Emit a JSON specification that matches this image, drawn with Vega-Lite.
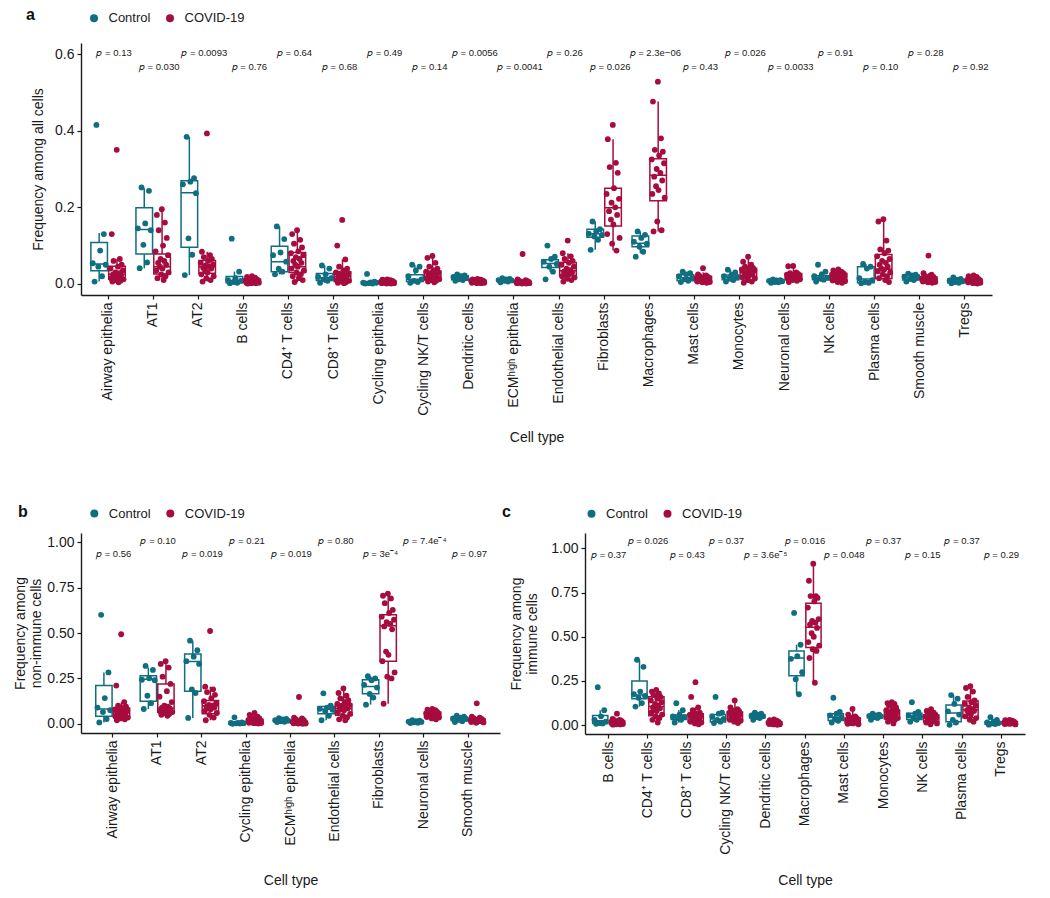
{
"$schema":"https://vega.github.io/schema/vega-lite/v6.json",
"padding":{"left":12,"top":7,"right":5,"bottom":5},
"bounds":"flush",
"spacing":238,
"config":{"font":"Liberation Sans","view":{"stroke":null},
"axis":{"grid":false,"domainColor":"#1a1a1a","domainWidth":1.4,"tickColor":"#1a1a1a","tickWidth":1.2,"tickSize":4,"labelColor":"#1a1a1a","labelFontSize":14,"labelPadding":3,"titleColor":"#1a1a1a","titleFontSize":14,"titleFontWeight":"normal"},
"legend":{"orient":"none","direction":"horizontal","title":null,"symbolType":"circle","symbolSize":64,"symbolStrokeWidth":0,"labelFontSize":13,"labelColor":"#1a1a1a","columnPadding":13,"labelOffset":8,"padding":0},
"title":{"color":"#111111"},"text":{"color":"#1a1a1a","font":"Liberation Sans"}},
"datasets":{
"ptA":[
{"c":"AE","g":"C","v":0.415},{"c":"AE","g":"C","v":0.13},{"c":"AE","g":"C","v":0.087},{"c":"AE","g":"C","v":0.054},{"c":"AE","g":"C","v":0.05},{"c":"AE","g":"C","v":0.045},{"c":"AE","g":"C","v":0.02},{"c":"AE","g":"C","v":0.006},
{"c":"AE","g":"V","v":0.35},{"c":"AE","g":"V","v":0.13},{"c":"AE","g":"V","v":0.065},{"c":"AE","g":"V","v":0.06},{"c":"AE","g":"V","v":0.05},{"c":"AE","g":"V","v":0.045},{"c":"AE","g":"V","v":0.04},{"c":"AE","g":"V","v":0.035},{"c":"AE","g":"V","v":0.03},{"c":"AE","g":"V","v":0.028},{"c":"AE","g":"V","v":0.025},{"c":"AE","g":"V","v":0.022},{"c":"AE","g":"V","v":0.02},{"c":"AE","g":"V","v":0.018},{"c":"AE","g":"V","v":0.015},{"c":"AE","g":"V","v":0.012},{"c":"AE","g":"V","v":0.01},{"c":"AE","g":"V","v":0.008},{"c":"AE","g":"V","v":0.006},{"c":"AE","g":"V","v":0.004},
{"c":"AT1","g":"C","v":0.252},{"c":"AT1","g":"C","v":0.243},{"c":"AT1","g":"C","v":0.158},{"c":"AT1","g":"C","v":0.145},{"c":"AT1","g":"C","v":0.14},{"c":"AT1","g":"C","v":0.102},{"c":"AT1","g":"C","v":0.056},{"c":"AT1","g":"C","v":0.041},
{"c":"AT1","g":"V","v":0.195},{"c":"AT1","g":"V","v":0.18},{"c":"AT1","g":"V","v":0.16},{"c":"AT1","g":"V","v":0.14},{"c":"AT1","g":"V","v":0.12},{"c":"AT1","g":"V","v":0.1},{"c":"AT1","g":"V","v":0.085},{"c":"AT1","g":"V","v":0.075},{"c":"AT1","g":"V","v":0.065},{"c":"AT1","g":"V","v":0.06},{"c":"AT1","g":"V","v":0.055},{"c":"AT1","g":"V","v":0.05},{"c":"AT1","g":"V","v":0.045},{"c":"AT1","g":"V","v":0.04},{"c":"AT1","g":"V","v":0.035},{"c":"AT1","g":"V","v":0.03},{"c":"AT1","g":"V","v":0.025},{"c":"AT1","g":"V","v":0.02},{"c":"AT1","g":"V","v":0.015},{"c":"AT1","g":"V","v":0.01},
{"c":"AT2","g":"C","v":0.384},{"c":"AT2","g":"C","v":0.276},{"c":"AT2","g":"C","v":0.267},{"c":"AT2","g":"C","v":0.26},{"c":"AT2","g":"C","v":0.237},{"c":"AT2","g":"C","v":0.119},{"c":"AT2","g":"C","v":0.076},{"c":"AT2","g":"C","v":0.023},
{"c":"AT2","g":"V","v":0.393},{"c":"AT2","g":"V","v":0.084},{"c":"AT2","g":"V","v":0.075},{"c":"AT2","g":"V","v":0.07},{"c":"AT2","g":"V","v":0.065},{"c":"AT2","g":"V","v":0.06},{"c":"AT2","g":"V","v":0.055},{"c":"AT2","g":"V","v":0.05},{"c":"AT2","g":"V","v":0.048},{"c":"AT2","g":"V","v":0.045},{"c":"AT2","g":"V","v":0.042},{"c":"AT2","g":"V","v":0.04},{"c":"AT2","g":"V","v":0.035},{"c":"AT2","g":"V","v":0.03},{"c":"AT2","g":"V","v":0.025},{"c":"AT2","g":"V","v":0.02},{"c":"AT2","g":"V","v":0.015},{"c":"AT2","g":"V","v":0.01},{"c":"AT2","g":"V","v":0.006},
{"c":"B","g":"C","v":0.118},{"c":"B","g":"C","v":0.032},{"c":"B","g":"C","v":0.015},{"c":"B","g":"C","v":0.01},{"c":"B","g":"C","v":0.008},{"c":"B","g":"C","v":0.005},{"c":"B","g":"C","v":0.003},{"c":"B","g":"C","v":0.002},
{"c":"B","g":"V","v":0.02},{"c":"B","g":"V","v":0.018},{"c":"B","g":"V","v":0.016},{"c":"B","g":"V","v":0.014},{"c":"B","g":"V","v":0.012},{"c":"B","g":"V","v":0.011},{"c":"B","g":"V","v":0.01},{"c":"B","g":"V","v":0.009},{"c":"B","g":"V","v":0.008},{"c":"B","g":"V","v":0.007},{"c":"B","g":"V","v":0.006},{"c":"B","g":"V","v":0.005},{"c":"B","g":"V","v":0.005},{"c":"B","g":"V","v":0.004},{"c":"B","g":"V","v":0.003},{"c":"B","g":"V","v":0.003},{"c":"B","g":"V","v":0.002},{"c":"B","g":"V","v":0.002},{"c":"B","g":"V","v":0.001},
{"c":"CD4","g":"C","v":0.15},{"c":"CD4","g":"C","v":0.117},{"c":"CD4","g":"C","v":0.082},{"c":"CD4","g":"C","v":0.075},{"c":"CD4","g":"C","v":0.058},{"c":"CD4","g":"C","v":0.04},{"c":"CD4","g":"C","v":0.032},{"c":"CD4","g":"C","v":0.025},
{"c":"CD4","g":"V","v":0.14},{"c":"CD4","g":"V","v":0.13},{"c":"CD4","g":"V","v":0.115},{"c":"CD4","g":"V","v":0.105},{"c":"CD4","g":"V","v":0.095},{"c":"CD4","g":"V","v":0.085},{"c":"CD4","g":"V","v":0.08},{"c":"CD4","g":"V","v":0.075},{"c":"CD4","g":"V","v":0.07},{"c":"CD4","g":"V","v":0.065},{"c":"CD4","g":"V","v":0.06},{"c":"CD4","g":"V","v":0.055},{"c":"CD4","g":"V","v":0.05},{"c":"CD4","g":"V","v":0.045},{"c":"CD4","g":"V","v":0.04},{"c":"CD4","g":"V","v":0.035},{"c":"CD4","g":"V","v":0.03},{"c":"CD4","g":"V","v":0.025},{"c":"CD4","g":"V","v":0.02},{"c":"CD4","g":"V","v":0.015},{"c":"CD4","g":"V","v":0.01},{"c":"CD4","g":"V","v":0.005},
{"c":"CD8","g":"C","v":0.048},{"c":"CD8","g":"C","v":0.04},{"c":"CD8","g":"C","v":0.025},{"c":"CD8","g":"C","v":0.018},{"c":"CD8","g":"C","v":0.015},{"c":"CD8","g":"C","v":0.012},{"c":"CD8","g":"C","v":0.008},{"c":"CD8","g":"C","v":0.003},
{"c":"CD8","g":"V","v":0.167},{"c":"CD8","g":"V","v":0.1},{"c":"CD8","g":"V","v":0.064},{"c":"CD8","g":"V","v":0.045},{"c":"CD8","g":"V","v":0.04},{"c":"CD8","g":"V","v":0.035},{"c":"CD8","g":"V","v":0.03},{"c":"CD8","g":"V","v":0.028},{"c":"CD8","g":"V","v":0.025},{"c":"CD8","g":"V","v":0.022},{"c":"CD8","g":"V","v":0.02},{"c":"CD8","g":"V","v":0.018},{"c":"CD8","g":"V","v":0.015},{"c":"CD8","g":"V","v":0.012},{"c":"CD8","g":"V","v":0.01},{"c":"CD8","g":"V","v":0.008},{"c":"CD8","g":"V","v":0.006},{"c":"CD8","g":"V","v":0.004},{"c":"CD8","g":"V","v":0.003},{"c":"CD8","g":"V","v":0.002},
{"c":"CyE","g":"C","v":0.026},{"c":"CyE","g":"C","v":0.006},{"c":"CyE","g":"C","v":0.004},{"c":"CyE","g":"C","v":0.003},{"c":"CyE","g":"C","v":0.003},{"c":"CyE","g":"C","v":0.002},{"c":"CyE","g":"C","v":0.001},{"c":"CyE","g":"C","v":0.001},
{"c":"CyE","g":"V","v":0.012},{"c":"CyE","g":"V","v":0.011},{"c":"CyE","g":"V","v":0.01},{"c":"CyE","g":"V","v":0.009},{"c":"CyE","g":"V","v":0.008},{"c":"CyE","g":"V","v":0.007},{"c":"CyE","g":"V","v":0.006},{"c":"CyE","g":"V","v":0.006},{"c":"CyE","g":"V","v":0.005},{"c":"CyE","g":"V","v":0.005},{"c":"CyE","g":"V","v":0.004},{"c":"CyE","g":"V","v":0.004},{"c":"CyE","g":"V","v":0.003},{"c":"CyE","g":"V","v":0.003},{"c":"CyE","g":"V","v":0.002},{"c":"CyE","g":"V","v":0.002},{"c":"CyE","g":"V","v":0.001},{"c":"CyE","g":"V","v":0.001},
{"c":"CyNK","g":"C","v":0.05},{"c":"CyNK","g":"C","v":0.045},{"c":"CyNK","g":"C","v":0.035},{"c":"CyNK","g":"C","v":0.02},{"c":"CyNK","g":"C","v":0.012},{"c":"CyNK","g":"C","v":0.008},{"c":"CyNK","g":"C","v":0.005},{"c":"CyNK","g":"C","v":0.003},
{"c":"CyNK","g":"V","v":0.073},{"c":"CyNK","g":"V","v":0.068},{"c":"CyNK","g":"V","v":0.055},{"c":"CyNK","g":"V","v":0.045},{"c":"CyNK","g":"V","v":0.04},{"c":"CyNK","g":"V","v":0.035},{"c":"CyNK","g":"V","v":0.032},{"c":"CyNK","g":"V","v":0.03},{"c":"CyNK","g":"V","v":0.028},{"c":"CyNK","g":"V","v":0.025},{"c":"CyNK","g":"V","v":0.022},{"c":"CyNK","g":"V","v":0.02},{"c":"CyNK","g":"V","v":0.018},{"c":"CyNK","g":"V","v":0.016},{"c":"CyNK","g":"V","v":0.014},{"c":"CyNK","g":"V","v":0.012},{"c":"CyNK","g":"V","v":0.01},{"c":"CyNK","g":"V","v":0.008},{"c":"CyNK","g":"V","v":0.006},{"c":"CyNK","g":"V","v":0.004},
{"c":"DC","g":"C","v":0.025},{"c":"DC","g":"C","v":0.022},{"c":"DC","g":"C","v":0.02},{"c":"DC","g":"C","v":0.018},{"c":"DC","g":"C","v":0.015},{"c":"DC","g":"C","v":0.012},{"c":"DC","g":"C","v":0.01},{"c":"DC","g":"C","v":0.008},
{"c":"DC","g":"V","v":0.013},{"c":"DC","g":"V","v":0.012},{"c":"DC","g":"V","v":0.011},{"c":"DC","g":"V","v":0.01},{"c":"DC","g":"V","v":0.009},{"c":"DC","g":"V","v":0.008},{"c":"DC","g":"V","v":0.008},{"c":"DC","g":"V","v":0.007},{"c":"DC","g":"V","v":0.006},{"c":"DC","g":"V","v":0.006},{"c":"DC","g":"V","v":0.005},{"c":"DC","g":"V","v":0.005},{"c":"DC","g":"V","v":0.004},{"c":"DC","g":"V","v":0.004},{"c":"DC","g":"V","v":0.003},{"c":"DC","g":"V","v":0.003},{"c":"DC","g":"V","v":0.002},{"c":"DC","g":"V","v":0.002},
{"c":"ECM","g":"C","v":0.015},{"c":"ECM","g":"C","v":0.013},{"c":"ECM","g":"C","v":0.012},{"c":"ECM","g":"C","v":0.01},{"c":"ECM","g":"C","v":0.009},{"c":"ECM","g":"C","v":0.008},{"c":"ECM","g":"C","v":0.006},{"c":"ECM","g":"C","v":0.004},
{"c":"ECM","g":"V","v":0.078},{"c":"ECM","g":"V","v":0.012},{"c":"ECM","g":"V","v":0.01},{"c":"ECM","g":"V","v":0.008},{"c":"ECM","g":"V","v":0.007},{"c":"ECM","g":"V","v":0.006},{"c":"ECM","g":"V","v":0.005},{"c":"ECM","g":"V","v":0.005},{"c":"ECM","g":"V","v":0.004},{"c":"ECM","g":"V","v":0.004},{"c":"ECM","g":"V","v":0.003},{"c":"ECM","g":"V","v":0.003},{"c":"ECM","g":"V","v":0.003},{"c":"ECM","g":"V","v":0.002},{"c":"ECM","g":"V","v":0.002},{"c":"ECM","g":"V","v":0.002},{"c":"ECM","g":"V","v":0.001},{"c":"ECM","g":"V","v":0.001},
{"c":"EC","g":"C","v":0.1},{"c":"EC","g":"C","v":0.071},{"c":"EC","g":"C","v":0.065},{"c":"EC","g":"C","v":0.058},{"c":"EC","g":"C","v":0.052},{"c":"EC","g":"C","v":0.045},{"c":"EC","g":"C","v":0.032},{"c":"EC","g":"C","v":0.012},
{"c":"EC","g":"V","v":0.113},{"c":"EC","g":"V","v":0.08},{"c":"EC","g":"V","v":0.072},{"c":"EC","g":"V","v":0.065},{"c":"EC","g":"V","v":0.06},{"c":"EC","g":"V","v":0.055},{"c":"EC","g":"V","v":0.05},{"c":"EC","g":"V","v":0.045},{"c":"EC","g":"V","v":0.04},{"c":"EC","g":"V","v":0.036},{"c":"EC","g":"V","v":0.032},{"c":"EC","g":"V","v":0.03},{"c":"EC","g":"V","v":0.027},{"c":"EC","g":"V","v":0.024},{"c":"EC","g":"V","v":0.02},{"c":"EC","g":"V","v":0.017},{"c":"EC","g":"V","v":0.014},{"c":"EC","g":"V","v":0.01},{"c":"EC","g":"V","v":0.006},
{"c":"Fib","g":"C","v":0.163},{"c":"Fib","g":"C","v":0.143},{"c":"Fib","g":"C","v":0.137},{"c":"Fib","g":"C","v":0.131},{"c":"Fib","g":"C","v":0.128},{"c":"Fib","g":"C","v":0.124},{"c":"Fib","g":"C","v":0.115},{"c":"Fib","g":"C","v":0.089},
{"c":"Fib","g":"V","v":0.415},{"c":"Fib","g":"V","v":0.378},{"c":"Fib","g":"V","v":0.316},{"c":"Fib","g":"V","v":0.305},{"c":"Fib","g":"V","v":0.29},{"c":"Fib","g":"V","v":0.25},{"c":"Fib","g":"V","v":0.235},{"c":"Fib","g":"V","v":0.222},{"c":"Fib","g":"V","v":0.212},{"c":"Fib","g":"V","v":0.2},{"c":"Fib","g":"V","v":0.19},{"c":"Fib","g":"V","v":0.18},{"c":"Fib","g":"V","v":0.168},{"c":"Fib","g":"V","v":0.155},{"c":"Fib","g":"V","v":0.13},{"c":"Fib","g":"V","v":0.12},{"c":"Fib","g":"V","v":0.105},{"c":"Fib","g":"V","v":0.087},
{"c":"Mac","g":"C","v":0.137},{"c":"Mac","g":"C","v":0.128},{"c":"Mac","g":"C","v":0.12},{"c":"Mac","g":"C","v":0.11},{"c":"Mac","g":"C","v":0.105},{"c":"Mac","g":"C","v":0.097},{"c":"Mac","g":"C","v":0.084},{"c":"Mac","g":"C","v":0.071},
{"c":"Mac","g":"V","v":0.528},{"c":"Mac","g":"V","v":0.476},{"c":"Mac","g":"V","v":0.38},{"c":"Mac","g":"V","v":0.35},{"c":"Mac","g":"V","v":0.345},{"c":"Mac","g":"V","v":0.335},{"c":"Mac","g":"V","v":0.325},{"c":"Mac","g":"V","v":0.315},{"c":"Mac","g":"V","v":0.3},{"c":"Mac","g":"V","v":0.29},{"c":"Mac","g":"V","v":0.28},{"c":"Mac","g":"V","v":0.27},{"c":"Mac","g":"V","v":0.255},{"c":"Mac","g":"V","v":0.245},{"c":"Mac","g":"V","v":0.235},{"c":"Mac","g":"V","v":0.225},{"c":"Mac","g":"V","v":0.163},{"c":"Mac","g":"V","v":0.14},{"c":"Mac","g":"V","v":0.137},
{"c":"Mast","g":"C","v":0.032},{"c":"Mast","g":"C","v":0.028},{"c":"Mast","g":"C","v":0.025},{"c":"Mast","g":"C","v":0.02},{"c":"Mast","g":"C","v":0.015},{"c":"Mast","g":"C","v":0.012},{"c":"Mast","g":"C","v":0.008},{"c":"Mast","g":"C","v":0.005},
{"c":"Mast","g":"V","v":0.041},{"c":"Mast","g":"V","v":0.025},{"c":"Mast","g":"V","v":0.022},{"c":"Mast","g":"V","v":0.02},{"c":"Mast","g":"V","v":0.018},{"c":"Mast","g":"V","v":0.016},{"c":"Mast","g":"V","v":0.015},{"c":"Mast","g":"V","v":0.014},{"c":"Mast","g":"V","v":0.012},{"c":"Mast","g":"V","v":0.011},{"c":"Mast","g":"V","v":0.01},{"c":"Mast","g":"V","v":0.009},{"c":"Mast","g":"V","v":0.008},{"c":"Mast","g":"V","v":0.007},{"c":"Mast","g":"V","v":0.006},{"c":"Mast","g":"V","v":0.005},{"c":"Mast","g":"V","v":0.004},{"c":"Mast","g":"V","v":0.003},
{"c":"Mono","g":"C","v":0.037},{"c":"Mono","g":"C","v":0.03},{"c":"Mono","g":"C","v":0.024},{"c":"Mono","g":"C","v":0.02},{"c":"Mono","g":"C","v":0.017},{"c":"Mono","g":"C","v":0.014},{"c":"Mono","g":"C","v":0.01},{"c":"Mono","g":"C","v":0.006},
{"c":"Mono","g":"V","v":0.071},{"c":"Mono","g":"V","v":0.058},{"c":"Mono","g":"V","v":0.05},{"c":"Mono","g":"V","v":0.045},{"c":"Mono","g":"V","v":0.042},{"c":"Mono","g":"V","v":0.04},{"c":"Mono","g":"V","v":0.038},{"c":"Mono","g":"V","v":0.035},{"c":"Mono","g":"V","v":0.032},{"c":"Mono","g":"V","v":0.03},{"c":"Mono","g":"V","v":0.028},{"c":"Mono","g":"V","v":0.025},{"c":"Mono","g":"V","v":0.022},{"c":"Mono","g":"V","v":0.02},{"c":"Mono","g":"V","v":0.017},{"c":"Mono","g":"V","v":0.014},{"c":"Mono","g":"V","v":0.01},{"c":"Mono","g":"V","v":0.006},{"c":"Mono","g":"V","v":0.003},
{"c":"Neu","g":"C","v":0.012},{"c":"Neu","g":"C","v":0.01},{"c":"Neu","g":"C","v":0.009},{"c":"Neu","g":"C","v":0.008},{"c":"Neu","g":"C","v":0.007},{"c":"Neu","g":"C","v":0.005},{"c":"Neu","g":"C","v":0.004},{"c":"Neu","g":"C","v":0.003},
{"c":"Neu","g":"V","v":0.047},{"c":"Neu","g":"V","v":0.046},{"c":"Neu","g":"V","v":0.03},{"c":"Neu","g":"V","v":0.028},{"c":"Neu","g":"V","v":0.026},{"c":"Neu","g":"V","v":0.025},{"c":"Neu","g":"V","v":0.024},{"c":"Neu","g":"V","v":0.022},{"c":"Neu","g":"V","v":0.021},{"c":"Neu","g":"V","v":0.02},{"c":"Neu","g":"V","v":0.019},{"c":"Neu","g":"V","v":0.018},{"c":"Neu","g":"V","v":0.017},{"c":"Neu","g":"V","v":0.015},{"c":"Neu","g":"V","v":0.014},{"c":"Neu","g":"V","v":0.012},{"c":"Neu","g":"V","v":0.01},{"c":"Neu","g":"V","v":0.008},{"c":"Neu","g":"V","v":0.005},
{"c":"NK","g":"C","v":0.05},{"c":"NK","g":"C","v":0.032},{"c":"NK","g":"C","v":0.025},{"c":"NK","g":"C","v":0.02},{"c":"NK","g":"C","v":0.016},{"c":"NK","g":"C","v":0.014},{"c":"NK","g":"C","v":0.011},{"c":"NK","g":"C","v":0.006},
{"c":"NK","g":"V","v":0.038},{"c":"NK","g":"V","v":0.035},{"c":"NK","g":"V","v":0.032},{"c":"NK","g":"V","v":0.03},{"c":"NK","g":"V","v":0.028},{"c":"NK","g":"V","v":0.026},{"c":"NK","g":"V","v":0.024},{"c":"NK","g":"V","v":0.022},{"c":"NK","g":"V","v":0.02},{"c":"NK","g":"V","v":0.018},{"c":"NK","g":"V","v":0.016},{"c":"NK","g":"V","v":0.015},{"c":"NK","g":"V","v":0.013},{"c":"NK","g":"V","v":0.011},{"c":"NK","g":"V","v":0.009},{"c":"NK","g":"V","v":0.007},{"c":"NK","g":"V","v":0.005},{"c":"NK","g":"V","v":0.003},
{"c":"PC","g":"C","v":0.052},{"c":"PC","g":"C","v":0.045},{"c":"PC","g":"C","v":0.04},{"c":"PC","g":"C","v":0.015},{"c":"PC","g":"C","v":0.01},{"c":"PC","g":"C","v":0.005},{"c":"PC","g":"C","v":0.003},{"c":"PC","g":"C","v":0.002},
{"c":"PC","g":"V","v":0.169},{"c":"PC","g":"V","v":0.163},{"c":"PC","g":"V","v":0.113},{"c":"PC","g":"V","v":0.09},{"c":"PC","g":"V","v":0.087},{"c":"PC","g":"V","v":0.08},{"c":"PC","g":"V","v":0.072},{"c":"PC","g":"V","v":0.065},{"c":"PC","g":"V","v":0.06},{"c":"PC","g":"V","v":0.055},{"c":"PC","g":"V","v":0.05},{"c":"PC","g":"V","v":0.045},{"c":"PC","g":"V","v":0.04},{"c":"PC","g":"V","v":0.037},{"c":"PC","g":"V","v":0.033},{"c":"PC","g":"V","v":0.03},{"c":"PC","g":"V","v":0.025},{"c":"PC","g":"V","v":0.02},{"c":"PC","g":"V","v":0.015},{"c":"PC","g":"V","v":0.01},{"c":"PC","g":"V","v":0.005},
{"c":"SM","g":"C","v":0.027},{"c":"SM","g":"C","v":0.024},{"c":"SM","g":"C","v":0.022},{"c":"SM","g":"C","v":0.019},{"c":"SM","g":"C","v":0.016},{"c":"SM","g":"C","v":0.013},{"c":"SM","g":"C","v":0.01},{"c":"SM","g":"C","v":0.006},
{"c":"SM","g":"V","v":0.074},{"c":"SM","g":"V","v":0.028},{"c":"SM","g":"V","v":0.024},{"c":"SM","g":"V","v":0.02},{"c":"SM","g":"V","v":0.018},{"c":"SM","g":"V","v":0.016},{"c":"SM","g":"V","v":0.015},{"c":"SM","g":"V","v":0.013},{"c":"SM","g":"V","v":0.012},{"c":"SM","g":"V","v":0.011},{"c":"SM","g":"V","v":0.01},{"c":"SM","g":"V","v":0.009},{"c":"SM","g":"V","v":0.008},{"c":"SM","g":"V","v":0.007},{"c":"SM","g":"V","v":0.006},{"c":"SM","g":"V","v":0.005},{"c":"SM","g":"V","v":0.004},{"c":"SM","g":"V","v":0.003},
{"c":"Treg","g":"C","v":0.017},{"c":"Treg","g":"C","v":0.013},{"c":"Treg","g":"C","v":0.011},{"c":"Treg","g":"C","v":0.009},{"c":"Treg","g":"C","v":0.007},{"c":"Treg","g":"C","v":0.005},{"c":"Treg","g":"C","v":0.003},{"c":"Treg","g":"C","v":0.002},
{"c":"Treg","g":"V","v":0.022},{"c":"Treg","g":"V","v":0.02},{"c":"Treg","g":"V","v":0.018},{"c":"Treg","g":"V","v":0.015},{"c":"Treg","g":"V","v":0.013},{"c":"Treg","g":"V","v":0.012},{"c":"Treg","g":"V","v":0.011},{"c":"Treg","g":"V","v":0.01},{"c":"Treg","g":"V","v":0.009},{"c":"Treg","g":"V","v":0.008},{"c":"Treg","g":"V","v":0.007},{"c":"Treg","g":"V","v":0.006},{"c":"Treg","g":"V","v":0.005},{"c":"Treg","g":"V","v":0.004},{"c":"Treg","g":"V","v":0.004},{"c":"Treg","g":"V","v":0.003},{"c":"Treg","g":"V","v":0.002},{"c":"Treg","g":"V","v":0.001}
],
"boxA":[
{"c":"AE","g":"C","lo":0.006,"q1":0.034,"md":0.052,"q3":0.108,"hi":0.133},{"c":"AE","g":"V","lo":0.003,"q1":0.012,"md":0.025,"q3":0.046,"hi":0.065},
{"c":"AT1","g":"C","lo":0.041,"q1":0.078,"md":0.142,"q3":0.199,"hi":0.25},{"c":"AT1","g":"V","lo":0.01,"q1":0.026,"md":0.045,"q3":0.078,"hi":0.195},
{"c":"AT2","g":"C","lo":0.023,"q1":0.096,"md":0.238,"q3":0.269,"hi":0.384},{"c":"AT2","g":"V","lo":0.006,"q1":0.028,"md":0.045,"q3":0.061,"hi":0.084},
{"c":"B","g":"C","lo":0.002,"q1":0.003,"md":0.008,"q3":0.019,"hi":0.032},{"c":"B","g":"V","lo":0.001,"q1":0.003,"md":0.007,"q3":0.012,"hi":0.02},
{"c":"CD4","g":"C","lo":0.025,"q1":0.032,"md":0.058,"q3":0.098,"hi":0.15},{"c":"CD4","g":"V","lo":0.005,"q1":0.03,"md":0.045,"q3":0.082,"hi":0.14},
{"c":"CD8","g":"C","lo":0.003,"q1":0.009,"md":0.016,"q3":0.027,"hi":0.048},{"c":"CD8","g":"V","lo":0.002,"q1":0.006,"md":0.019,"q3":0.032,"hi":0.064},
{"c":"CyE","g":"C","lo":0.001,"q1":0.001,"md":0.003,"q3":0.005,"hi":0.006},{"c":"CyE","g":"V","lo":0.001,"q1":0.002,"md":0.005,"q3":0.008,"hi":0.012},
{"c":"CyNK","g":"C","lo":0.003,"q1":0.006,"md":0.012,"q3":0.024,"hi":0.05},{"c":"CyNK","g":"V","lo":0.004,"q1":0.01,"md":0.02,"q3":0.033,"hi":0.068},
{"c":"DC","g":"C","lo":0.008,"q1":0.011,"md":0.016,"q3":0.021,"hi":0.025},{"c":"DC","g":"V","lo":0.002,"q1":0.004,"md":0.006,"q3":0.009,"hi":0.013},
{"c":"ECM","g":"C","lo":0.004,"q1":0.007,"md":0.0095,"q3":0.0125,"hi":0.015},{"c":"ECM","g":"V","lo":0.001,"q1":0.002,"md":0.0035,"q3":0.0065,"hi":0.012},
{"c":"EC","g":"C","lo":0.032,"q1":0.043,"md":0.053,"q3":0.063,"hi":0.071},{"c":"EC","g":"V","lo":0.006,"q1":0.021,"md":0.034,"q3":0.056,"hi":0.08},
{"c":"Fib","g":"C","lo":0.089,"q1":0.122,"md":0.131,"q3":0.143,"hi":0.163},{"c":"Fib","g":"V","lo":0.087,"q1":0.151,"md":0.199,"q3":0.25,"hi":0.378},
{"c":"Mac","g":"C","lo":0.08,"q1":0.097,"md":0.106,"q3":0.125,"hi":0.137},{"c":"Mac","g":"V","lo":0.137,"q1":0.217,"md":0.284,"q3":0.327,"hi":0.476},
{"c":"Mast","g":"C","lo":0.005,"q1":0.008,"md":0.016,"q3":0.024,"hi":0.032},{"c":"Mast","g":"V","lo":0.002,"q1":0.005,"md":0.012,"q3":0.02,"hi":0.03},
{"c":"Mono","g":"C","lo":0.006,"q1":0.011,"md":0.018,"q3":0.023,"hi":0.037},{"c":"Mono","g":"V","lo":0.003,"q1":0.019,"md":0.03,"q3":0.041,"hi":0.071},
{"c":"Neu","g":"C","lo":0.003,"q1":0.004,"md":0.0075,"q3":0.0095,"hi":0.012},{"c":"Neu","g":"V","lo":0.005,"q1":0.013,"md":0.02,"q3":0.027,"hi":0.047},
{"c":"NK","g":"C","lo":0.006,"q1":0.011,"md":0.015,"q3":0.021,"hi":0.032},{"c":"NK","g":"V","lo":0.003,"q1":0.009,"md":0.018,"q3":0.028,"hi":0.038},
{"c":"PC","g":"C","lo":0.002,"q1":0.003,"md":0.013,"q3":0.045,"hi":0.052},{"c":"PC","g":"V","lo":0.005,"q1":0.014,"md":0.038,"q3":0.077,"hi":0.169},
{"c":"SM","g":"C","lo":0.006,"q1":0.01,"md":0.017,"q3":0.023,"hi":0.027},{"c":"SM","g":"V","lo":0.003,"q1":0.006,"md":0.0115,"q3":0.018,"hi":0.028},
{"c":"Treg","g":"C","lo":0.002,"q1":0.003,"md":0.008,"q3":0.012,"hi":0.017},{"c":"Treg","g":"V","lo":0.001,"q1":0.004,"md":0.0085,"q3":0.012,"hi":0.022}
],
"pvA":[
{"c":"AE","t":"𝑝 = 0.13","y":0.603},{"c":"AT1","t":"𝑝 = 0.030","y":0.566},{"c":"AT2","t":"𝑝 = 0.0093","y":0.603},{"c":"B","t":"𝑝 = 0.76","y":0.566},{"c":"CD4","t":"𝑝 = 0.64","y":0.603},{"c":"CD8","t":"𝑝 = 0.68","y":0.566},{"c":"CyE","t":"𝑝 = 0.49","y":0.603},{"c":"CyNK","t":"𝑝 = 0.14","y":0.566},{"c":"DC","t":"𝑝 = 0.0056","y":0.603},{"c":"ECM","t":"𝑝 = 0.0041","y":0.566},{"c":"EC","t":"𝑝 = 0.26","y":0.603},{"c":"Fib","t":"𝑝 = 0.026","y":0.566},{"c":"Mac","t":"𝑝 = 2.3e−06","y":0.603},{"c":"Mast","t":"𝑝 = 0.43","y":0.566},{"c":"Mono","t":"𝑝 = 0.026","y":0.603},{"c":"Neu","t":"𝑝 = 0.0033","y":0.566},{"c":"NK","t":"𝑝 = 0.91","y":0.603},{"c":"PC","t":"𝑝 = 0.10","y":0.566},{"c":"SM","t":"𝑝 = 0.28","y":0.603},{"c":"Treg","t":"𝑝 = 0.92","y":0.566}
],
"ptB":[
{"c":"AE","g":"C","v":0.6},{"c":"AE","g":"C","v":0.283},{"c":"AE","g":"C","v":0.142},{"c":"AE","g":"C","v":0.09},{"c":"AE","g":"C","v":0.075},{"c":"AE","g":"C","v":0.065},{"c":"AE","g":"C","v":0.027},{"c":"AE","g":"C","v":0.008},
{"c":"AE","g":"V","v":0.493},{"c":"AE","g":"V","v":0.211},{"c":"AE","g":"V","v":0.12},{"c":"AE","g":"V","v":0.1},{"c":"AE","g":"V","v":0.095},{"c":"AE","g":"V","v":0.088},{"c":"AE","g":"V","v":0.08},{"c":"AE","g":"V","v":0.075},{"c":"AE","g":"V","v":0.07},{"c":"AE","g":"V","v":0.065},{"c":"AE","g":"V","v":0.06},{"c":"AE","g":"V","v":0.055},{"c":"AE","g":"V","v":0.05},{"c":"AE","g":"V","v":0.045},{"c":"AE","g":"V","v":0.04},{"c":"AE","g":"V","v":0.035},{"c":"AE","g":"V","v":0.03},{"c":"AE","g":"V","v":0.025},{"c":"AE","g":"V","v":0.02},
{"c":"AT1","g":"C","v":0.319},{"c":"AT1","g":"C","v":0.297},{"c":"AT1","g":"C","v":0.251},{"c":"AT1","g":"C","v":0.243},{"c":"AT1","g":"C","v":0.24},{"c":"AT1","g":"C","v":0.155},{"c":"AT1","g":"C","v":0.114},{"c":"AT1","g":"C","v":0.082},
{"c":"AT1","g":"V","v":0.345},{"c":"AT1","g":"V","v":0.33},{"c":"AT1","g":"V","v":0.31},{"c":"AT1","g":"V","v":0.26},{"c":"AT1","g":"V","v":0.22},{"c":"AT1","g":"V","v":0.18},{"c":"AT1","g":"V","v":0.15},{"c":"AT1","g":"V","v":0.12},{"c":"AT1","g":"V","v":0.1},{"c":"AT1","g":"V","v":0.095},{"c":"AT1","g":"V","v":0.09},{"c":"AT1","g":"V","v":0.085},{"c":"AT1","g":"V","v":0.08},{"c":"AT1","g":"V","v":0.075},{"c":"AT1","g":"V","v":0.07},{"c":"AT1","g":"V","v":0.065},{"c":"AT1","g":"V","v":0.06},{"c":"AT1","g":"V","v":0.055},{"c":"AT1","g":"V","v":0.05},{"c":"AT1","g":"V","v":0.045},
{"c":"AT2","g":"C","v":0.458},{"c":"AT2","g":"C","v":0.405},{"c":"AT2","g":"C","v":0.37},{"c":"AT2","g":"C","v":0.345},{"c":"AT2","g":"C","v":0.33},{"c":"AT2","g":"C","v":0.19},{"c":"AT2","g":"C","v":0.17},{"c":"AT2","g":"C","v":0.033},
{"c":"AT2","g":"V","v":0.511},{"c":"AT2","g":"V","v":0.205},{"c":"AT2","g":"V","v":0.19},{"c":"AT2","g":"V","v":0.175},{"c":"AT2","g":"V","v":0.16},{"c":"AT2","g":"V","v":0.14},{"c":"AT2","g":"V","v":0.125},{"c":"AT2","g":"V","v":0.115},{"c":"AT2","g":"V","v":0.105},{"c":"AT2","g":"V","v":0.1},{"c":"AT2","g":"V","v":0.095},{"c":"AT2","g":"V","v":0.09},{"c":"AT2","g":"V","v":0.085},{"c":"AT2","g":"V","v":0.08},{"c":"AT2","g":"V","v":0.07},{"c":"AT2","g":"V","v":0.06},{"c":"AT2","g":"V","v":0.05},{"c":"AT2","g":"V","v":0.035},{"c":"AT2","g":"V","v":0.02},
{"c":"CyE","g":"C","v":0.036},{"c":"CyE","g":"C","v":0.008},{"c":"CyE","g":"C","v":0.006},{"c":"CyE","g":"C","v":0.005},{"c":"CyE","g":"C","v":0.004},{"c":"CyE","g":"C","v":0.003},{"c":"CyE","g":"C","v":0.002},{"c":"CyE","g":"C","v":0.001},
{"c":"CyE","g":"V","v":0.06},{"c":"CyE","g":"V","v":0.05},{"c":"CyE","g":"V","v":0.04},{"c":"CyE","g":"V","v":0.035},{"c":"CyE","g":"V","v":0.03},{"c":"CyE","g":"V","v":0.026},{"c":"CyE","g":"V","v":0.022},{"c":"CyE","g":"V","v":0.018},{"c":"CyE","g":"V","v":0.015},{"c":"CyE","g":"V","v":0.013},{"c":"CyE","g":"V","v":0.011},{"c":"CyE","g":"V","v":0.009},{"c":"CyE","g":"V","v":0.008},{"c":"CyE","g":"V","v":0.007},{"c":"CyE","g":"V","v":0.006},{"c":"CyE","g":"V","v":0.005},{"c":"CyE","g":"V","v":0.004},{"c":"CyE","g":"V","v":0.002},
{"c":"ECM","g":"C","v":0.031},{"c":"ECM","g":"C","v":0.028},{"c":"ECM","g":"C","v":0.025},{"c":"ECM","g":"C","v":0.02},{"c":"ECM","g":"C","v":0.017},{"c":"ECM","g":"C","v":0.015},{"c":"ECM","g":"C","v":0.012},{"c":"ECM","g":"C","v":0.01},
{"c":"ECM","g":"V","v":0.148},{"c":"ECM","g":"V","v":0.035},{"c":"ECM","g":"V","v":0.03},{"c":"ECM","g":"V","v":0.025},{"c":"ECM","g":"V","v":0.02},{"c":"ECM","g":"V","v":0.015},{"c":"ECM","g":"V","v":0.012},{"c":"ECM","g":"V","v":0.01},{"c":"ECM","g":"V","v":0.009},{"c":"ECM","g":"V","v":0.008},{"c":"ECM","g":"V","v":0.007},{"c":"ECM","g":"V","v":0.006},{"c":"ECM","g":"V","v":0.005},{"c":"ECM","g":"V","v":0.004},{"c":"ECM","g":"V","v":0.003},{"c":"ECM","g":"V","v":0.002},{"c":"ECM","g":"V","v":0.002},{"c":"ECM","g":"V","v":0.001},
{"c":"EC","g":"C","v":0.168},{"c":"EC","g":"C","v":0.1},{"c":"EC","g":"C","v":0.09},{"c":"EC","g":"C","v":0.083},{"c":"EC","g":"C","v":0.078},{"c":"EC","g":"C","v":0.07},{"c":"EC","g":"C","v":0.045},{"c":"EC","g":"C","v":0.02},
{"c":"EC","g":"V","v":0.195},{"c":"EC","g":"V","v":0.17},{"c":"EC","g":"V","v":0.155},{"c":"EC","g":"V","v":0.14},{"c":"EC","g":"V","v":0.13},{"c":"EC","g":"V","v":0.12},{"c":"EC","g":"V","v":0.11},{"c":"EC","g":"V","v":0.105},{"c":"EC","g":"V","v":0.1},{"c":"EC","g":"V","v":0.095},{"c":"EC","g":"V","v":0.09},{"c":"EC","g":"V","v":0.085},{"c":"EC","g":"V","v":0.08},{"c":"EC","g":"V","v":0.075},{"c":"EC","g":"V","v":0.065},{"c":"EC","g":"V","v":0.055},{"c":"EC","g":"V","v":0.045},{"c":"EC","g":"V","v":0.035},{"c":"EC","g":"V","v":0.025},{"c":"EC","g":"V","v":0.02},
{"c":"Fib","g":"C","v":0.262},{"c":"Fib","g":"C","v":0.25},{"c":"Fib","g":"C","v":0.24},{"c":"Fib","g":"C","v":0.215},{"c":"Fib","g":"C","v":0.2},{"c":"Fib","g":"C","v":0.165},{"c":"Fib","g":"C","v":0.145},{"c":"Fib","g":"C","v":0.106},
{"c":"Fib","g":"V","v":0.717},{"c":"Fib","g":"V","v":0.705},{"c":"Fib","g":"V","v":0.69},{"c":"Fib","g":"V","v":0.664},{"c":"Fib","g":"V","v":0.627},{"c":"Fib","g":"V","v":0.61},{"c":"Fib","g":"V","v":0.59},{"c":"Fib","g":"V","v":0.573},{"c":"Fib","g":"V","v":0.56},{"c":"Fib","g":"V","v":0.55},{"c":"Fib","g":"V","v":0.536},{"c":"Fib","g":"V","v":0.52},{"c":"Fib","g":"V","v":0.398},{"c":"Fib","g":"V","v":0.38},{"c":"Fib","g":"V","v":0.345},{"c":"Fib","g":"V","v":0.283},{"c":"Fib","g":"V","v":0.26},{"c":"Fib","g":"V","v":0.25},{"c":"Fib","g":"V","v":0.111},
{"c":"Neu","g":"C","v":0.02},{"c":"Neu","g":"C","v":0.018},{"c":"Neu","g":"C","v":0.015},{"c":"Neu","g":"C","v":0.013},{"c":"Neu","g":"C","v":0.011},{"c":"Neu","g":"C","v":0.009},{"c":"Neu","g":"C","v":0.007},{"c":"Neu","g":"C","v":0.005},
{"c":"Neu","g":"V","v":0.082},{"c":"Neu","g":"V","v":0.078},{"c":"Neu","g":"V","v":0.075},{"c":"Neu","g":"V","v":0.07},{"c":"Neu","g":"V","v":0.066},{"c":"Neu","g":"V","v":0.062},{"c":"Neu","g":"V","v":0.058},{"c":"Neu","g":"V","v":0.055},{"c":"Neu","g":"V","v":0.052},{"c":"Neu","g":"V","v":0.05},{"c":"Neu","g":"V","v":0.048},{"c":"Neu","g":"V","v":0.045},{"c":"Neu","g":"V","v":0.042},{"c":"Neu","g":"V","v":0.04},{"c":"Neu","g":"V","v":0.038},{"c":"Neu","g":"V","v":0.035},{"c":"Neu","g":"V","v":0.03},{"c":"Neu","g":"V","v":0.025},
{"c":"SM","g":"C","v":0.045},{"c":"SM","g":"C","v":0.04},{"c":"SM","g":"C","v":0.035},{"c":"SM","g":"C","v":0.03},{"c":"SM","g":"C","v":0.027},{"c":"SM","g":"C","v":0.022},{"c":"SM","g":"C","v":0.015},{"c":"SM","g":"C","v":0.01},
{"c":"SM","g":"V","v":0.113},{"c":"SM","g":"V","v":0.04},{"c":"SM","g":"V","v":0.035},{"c":"SM","g":"V","v":0.03},{"c":"SM","g":"V","v":0.027},{"c":"SM","g":"V","v":0.025},{"c":"SM","g":"V","v":0.022},{"c":"SM","g":"V","v":0.02},{"c":"SM","g":"V","v":0.019},{"c":"SM","g":"V","v":0.018},{"c":"SM","g":"V","v":0.016},{"c":"SM","g":"V","v":0.015},{"c":"SM","g":"V","v":0.013},{"c":"SM","g":"V","v":0.012},{"c":"SM","g":"V","v":0.01},{"c":"SM","g":"V","v":0.008},{"c":"SM","g":"V","v":0.006}
],
"boxB":[
{"c":"AE","g":"C","lo":0.008,"q1":0.042,"md":0.082,"q3":0.211,"hi":0.283},{"c":"AE","g":"V","lo":0.02,"q1":0.038,"md":0.06,"q3":0.088,"hi":0.12},
{"c":"AT1","g":"C","lo":0.082,"q1":0.124,"md":0.246,"q3":0.265,"hi":0.31},{"c":"AT1","g":"V","lo":0.045,"q1":0.064,"md":0.088,"q3":0.219,"hi":0.345},
{"c":"AT2","g":"C","lo":0.033,"q1":0.179,"md":0.343,"q3":0.385,"hi":0.458},{"c":"AT2","g":"V","lo":0.02,"q1":0.056,"md":0.1,"q3":0.129,"hi":0.205},
{"c":"CyE","g":"C","lo":0.001,"q1":0.002,"md":0.0045,"q3":0.007,"hi":0.008},{"c":"CyE","g":"V","lo":0.002,"q1":0.006,"md":0.012,"q3":0.025,"hi":0.06},
{"c":"ECM","g":"C","lo":0.01,"q1":0.013,"md":0.0185,"q3":0.026,"hi":0.031},{"c":"ECM","g":"V","lo":0.001,"q1":0.003,"md":0.0075,"q3":0.014,"hi":0.035},
{"c":"EC","g":"C","lo":0.02,"q1":0.056,"md":0.08,"q3":0.096,"hi":0.1},{"c":"EC","g":"V","lo":0.02,"q1":0.047,"md":0.085,"q3":0.109,"hi":0.195},
{"c":"Fib","g":"C","lo":0.106,"q1":0.166,"md":0.206,"q3":0.243,"hi":0.262},{"c":"Fib","g":"V","lo":0.111,"q1":0.345,"md":0.54,"q3":0.6,"hi":0.717},
{"c":"Neu","g":"C","lo":0.005,"q1":0.008,"md":0.012,"q3":0.016,"hi":0.02},{"c":"Neu","g":"V","lo":0.025,"q1":0.037,"md":0.051,"q3":0.065,"hi":0.082},
{"c":"SM","g":"C","lo":0.01,"q1":0.017,"md":0.0285,"q3":0.036,"hi":0.045},{"c":"SM","g":"V","lo":0.006,"q1":0.012,"md":0.019,"q3":0.026,"hi":0.04}
],
"pvB":[
{"c":"AE","t":"𝑝 = 0.56","y":0.934},{"c":"AT1","t":"𝑝 = 0.10","y":1.005},{"c":"AT2","t":"𝑝 = 0.019","y":0.934},{"c":"CyE","t":"𝑝 = 0.21","y":1.005},{"c":"ECM","t":"𝑝 = 0.019","y":0.934},{"c":"EC","t":"𝑝 = 0.80","y":1.005},{"c":"Fib","t":"𝑝 = 3e⁻⁴","y":0.934},{"c":"Neu","t":"𝑝 = 7.4e⁻⁴","y":1.005},{"c":"SM","t":"𝑝 = 0.97","y":0.934}
],
"ptC":[
{"c":"B","g":"C","v":0.215},{"c":"B","g":"C","v":0.085},{"c":"B","g":"C","v":0.05},{"c":"B","g":"C","v":0.03},{"c":"B","g":"C","v":0.02},{"c":"B","g":"C","v":0.012},{"c":"B","g":"C","v":0.01},{"c":"B","g":"C","v":0.008},
{"c":"B","g":"V","v":0.065},{"c":"B","g":"V","v":0.035},{"c":"B","g":"V","v":0.03},{"c":"B","g":"V","v":0.028},{"c":"B","g":"V","v":0.025},{"c":"B","g":"V","v":0.022},{"c":"B","g":"V","v":0.02},{"c":"B","g":"V","v":0.018},{"c":"B","g":"V","v":0.016},{"c":"B","g":"V","v":0.015},{"c":"B","g":"V","v":0.013},{"c":"B","g":"V","v":0.012},{"c":"B","g":"V","v":0.01},{"c":"B","g":"V","v":0.008},{"c":"B","g":"V","v":0.007},{"c":"B","g":"V","v":0.006},{"c":"B","g":"V","v":0.005},{"c":"B","g":"V","v":0.004},{"c":"B","g":"V","v":0.003},
{"c":"CD4","g":"C","v":0.37},{"c":"CD4","g":"C","v":0.33},{"c":"CD4","g":"C","v":0.19},{"c":"CD4","g":"C","v":0.175},{"c":"CD4","g":"C","v":0.165},{"c":"CD4","g":"C","v":0.155},{"c":"CD4","g":"C","v":0.125},{"c":"CD4","g":"C","v":0.105},
{"c":"CD4","g":"V","v":0.2},{"c":"CD4","g":"V","v":0.19},{"c":"CD4","g":"V","v":0.18},{"c":"CD4","g":"V","v":0.17},{"c":"CD4","g":"V","v":0.16},{"c":"CD4","g":"V","v":0.15},{"c":"CD4","g":"V","v":0.14},{"c":"CD4","g":"V","v":0.13},{"c":"CD4","g":"V","v":0.12},{"c":"CD4","g":"V","v":0.11},{"c":"CD4","g":"V","v":0.1},{"c":"CD4","g":"V","v":0.095},{"c":"CD4","g":"V","v":0.09},{"c":"CD4","g":"V","v":0.08},{"c":"CD4","g":"V","v":0.07},{"c":"CD4","g":"V","v":0.06},{"c":"CD4","g":"V","v":0.05},{"c":"CD4","g":"V","v":0.04},{"c":"CD4","g":"V","v":0.03},{"c":"CD4","g":"V","v":0.015},
{"c":"CD8","g":"C","v":0.124},{"c":"CD8","g":"C","v":0.085},{"c":"CD8","g":"C","v":0.06},{"c":"CD8","g":"C","v":0.05},{"c":"CD8","g":"C","v":0.045},{"c":"CD8","g":"C","v":0.04},{"c":"CD8","g":"C","v":0.03},{"c":"CD8","g":"C","v":0.015},
{"c":"CD8","g":"V","v":0.243},{"c":"CD8","g":"V","v":0.16},{"c":"CD8","g":"V","v":0.1},{"c":"CD8","g":"V","v":0.085},{"c":"CD8","g":"V","v":0.07},{"c":"CD8","g":"V","v":0.065},{"c":"CD8","g":"V","v":0.06},{"c":"CD8","g":"V","v":0.055},{"c":"CD8","g":"V","v":0.05},{"c":"CD8","g":"V","v":0.045},{"c":"CD8","g":"V","v":0.04},{"c":"CD8","g":"V","v":0.035},{"c":"CD8","g":"V","v":0.03},{"c":"CD8","g":"V","v":0.025},{"c":"CD8","g":"V","v":0.02},{"c":"CD8","g":"V","v":0.015},{"c":"CD8","g":"V","v":0.01},{"c":"CD8","g":"V","v":0.005},
{"c":"CyNK","g":"C","v":0.16},{"c":"CyNK","g":"C","v":0.07},{"c":"CyNK","g":"C","v":0.065},{"c":"CyNK","g":"C","v":0.05},{"c":"CyNK","g":"C","v":0.035},{"c":"CyNK","g":"C","v":0.03},{"c":"CyNK","g":"C","v":0.02},{"c":"CyNK","g":"C","v":0.012},
{"c":"CyNK","g":"V","v":0.14},{"c":"CyNK","g":"V","v":0.1},{"c":"CyNK","g":"V","v":0.09},{"c":"CyNK","g":"V","v":0.085},{"c":"CyNK","g":"V","v":0.08},{"c":"CyNK","g":"V","v":0.075},{"c":"CyNK","g":"V","v":0.07},{"c":"CyNK","g":"V","v":0.065},{"c":"CyNK","g":"V","v":0.06},{"c":"CyNK","g":"V","v":0.055},{"c":"CyNK","g":"V","v":0.05},{"c":"CyNK","g":"V","v":0.045},{"c":"CyNK","g":"V","v":0.04},{"c":"CyNK","g":"V","v":0.035},{"c":"CyNK","g":"V","v":0.03},{"c":"CyNK","g":"V","v":0.025},{"c":"CyNK","g":"V","v":0.02},{"c":"CyNK","g":"V","v":0.012},
{"c":"DC","g":"C","v":0.07},{"c":"DC","g":"C","v":0.065},{"c":"DC","g":"C","v":0.06},{"c":"DC","g":"C","v":0.055},{"c":"DC","g":"C","v":0.05},{"c":"DC","g":"C","v":0.045},{"c":"DC","g":"C","v":0.04},{"c":"DC","g":"C","v":0.03},
{"c":"DC","g":"V","v":0.032},{"c":"DC","g":"V","v":0.028},{"c":"DC","g":"V","v":0.025},{"c":"DC","g":"V","v":0.022},{"c":"DC","g":"V","v":0.02},{"c":"DC","g":"V","v":0.018},{"c":"DC","g":"V","v":0.016},{"c":"DC","g":"V","v":0.014},{"c":"DC","g":"V","v":0.012},{"c":"DC","g":"V","v":0.011},{"c":"DC","g":"V","v":0.01},{"c":"DC","g":"V","v":0.009},{"c":"DC","g":"V","v":0.008},{"c":"DC","g":"V","v":0.007},{"c":"DC","g":"V","v":0.006},{"c":"DC","g":"V","v":0.005},{"c":"DC","g":"V","v":0.004},{"c":"DC","g":"V","v":0.002},
{"c":"Mac","g":"C","v":0.635},{"c":"Mac","g":"C","v":0.455},{"c":"Mac","g":"C","v":0.39},{"c":"Mac","g":"C","v":0.375},{"c":"Mac","g":"C","v":0.3},{"c":"Mac","g":"C","v":0.26},{"c":"Mac","g":"C","v":0.175},
{"c":"Mac","g":"V","v":0.913},{"c":"Mac","g":"V","v":0.817},{"c":"Mac","g":"V","v":0.73},{"c":"Mac","g":"V","v":0.73},{"c":"Mac","g":"V","v":0.72},{"c":"Mac","g":"V","v":0.7},{"c":"Mac","g":"V","v":0.665},{"c":"Mac","g":"V","v":0.6},{"c":"Mac","g":"V","v":0.59},{"c":"Mac","g":"V","v":0.58},{"c":"Mac","g":"V","v":0.57},{"c":"Mac","g":"V","v":0.55},{"c":"Mac","g":"V","v":0.52},{"c":"Mac","g":"V","v":0.5},{"c":"Mac","g":"V","v":0.47},{"c":"Mac","g":"V","v":0.45},{"c":"Mac","g":"V","v":0.43},{"c":"Mac","g":"V","v":0.42},{"c":"Mac","g":"V","v":0.38},{"c":"Mac","g":"V","v":0.24},
{"c":"Mast","g":"C","v":0.155},{"c":"Mast","g":"C","v":0.075},{"c":"Mast","g":"C","v":0.065},{"c":"Mast","g":"C","v":0.055},{"c":"Mast","g":"C","v":0.045},{"c":"Mast","g":"C","v":0.035},{"c":"Mast","g":"C","v":0.025},{"c":"Mast","g":"C","v":0.015},
{"c":"Mast","g":"V","v":0.092},{"c":"Mast","g":"V","v":0.06},{"c":"Mast","g":"V","v":0.05},{"c":"Mast","g":"V","v":0.045},{"c":"Mast","g":"V","v":0.04},{"c":"Mast","g":"V","v":0.035},{"c":"Mast","g":"V","v":0.03},{"c":"Mast","g":"V","v":0.025},{"c":"Mast","g":"V","v":0.022},{"c":"Mast","g":"V","v":0.02},{"c":"Mast","g":"V","v":0.018},{"c":"Mast","g":"V","v":0.015},{"c":"Mast","g":"V","v":0.012},{"c":"Mast","g":"V","v":0.01},{"c":"Mast","g":"V","v":0.008},{"c":"Mast","g":"V","v":0.005},
{"c":"Mono","g":"C","v":0.065},{"c":"Mono","g":"C","v":0.06},{"c":"Mono","g":"C","v":0.055},{"c":"Mono","g":"C","v":0.052},{"c":"Mono","g":"C","v":0.05},{"c":"Mono","g":"C","v":0.045},{"c":"Mono","g":"C","v":0.04},{"c":"Mono","g":"C","v":0.03},
{"c":"Mono","g":"V","v":0.13},{"c":"Mono","g":"V","v":0.125},{"c":"Mono","g":"V","v":0.12},{"c":"Mono","g":"V","v":0.11},{"c":"Mono","g":"V","v":0.1},{"c":"Mono","g":"V","v":0.09},{"c":"Mono","g":"V","v":0.085},{"c":"Mono","g":"V","v":0.08},{"c":"Mono","g":"V","v":0.075},{"c":"Mono","g":"V","v":0.07},{"c":"Mono","g":"V","v":0.065},{"c":"Mono","g":"V","v":0.06},{"c":"Mono","g":"V","v":0.055},{"c":"Mono","g":"V","v":0.05},{"c":"Mono","g":"V","v":0.045},{"c":"Mono","g":"V","v":0.04},{"c":"Mono","g":"V","v":0.035},{"c":"Mono","g":"V","v":0.03},{"c":"Mono","g":"V","v":0.02},{"c":"Mono","g":"V","v":0.01},
{"c":"NK","g":"C","v":0.13},{"c":"NK","g":"C","v":0.075},{"c":"NK","g":"C","v":0.065},{"c":"NK","g":"C","v":0.055},{"c":"NK","g":"C","v":0.05},{"c":"NK","g":"C","v":0.04},{"c":"NK","g":"C","v":0.03},{"c":"NK","g":"C","v":0.02},
{"c":"NK","g":"V","v":0.09},{"c":"NK","g":"V","v":0.08},{"c":"NK","g":"V","v":0.07},{"c":"NK","g":"V","v":0.065},{"c":"NK","g":"V","v":0.06},{"c":"NK","g":"V","v":0.055},{"c":"NK","g":"V","v":0.05},{"c":"NK","g":"V","v":0.045},{"c":"NK","g":"V","v":0.04},{"c":"NK","g":"V","v":0.035},{"c":"NK","g":"V","v":0.03},{"c":"NK","g":"V","v":0.028},{"c":"NK","g":"V","v":0.025},{"c":"NK","g":"V","v":0.02},{"c":"NK","g":"V","v":0.015},{"c":"NK","g":"V","v":0.01},{"c":"NK","g":"V","v":0.005},
{"c":"PC","g":"C","v":0.17},{"c":"PC","g":"C","v":0.15},{"c":"PC","g":"C","v":0.12},{"c":"PC","g":"C","v":0.078},{"c":"PC","g":"C","v":0.06},{"c":"PC","g":"C","v":0.03},{"c":"PC","g":"C","v":0.015},{"c":"PC","g":"C","v":0.002},
{"c":"PC","g":"V","v":0.22},{"c":"PC","g":"V","v":0.21},{"c":"PC","g":"V","v":0.19},{"c":"PC","g":"V","v":0.16},{"c":"PC","g":"V","v":0.14},{"c":"PC","g":"V","v":0.13},{"c":"PC","g":"V","v":0.12},{"c":"PC","g":"V","v":0.11},{"c":"PC","g":"V","v":0.1},{"c":"PC","g":"V","v":0.09},{"c":"PC","g":"V","v":0.085},{"c":"PC","g":"V","v":0.08},{"c":"PC","g":"V","v":0.07},{"c":"PC","g":"V","v":0.06},{"c":"PC","g":"V","v":0.05},{"c":"PC","g":"V","v":0.04},{"c":"PC","g":"V","v":0.03},{"c":"PC","g":"V","v":0.02},
{"c":"Treg","g":"C","v":0.045},{"c":"Treg","g":"C","v":0.03},{"c":"Treg","g":"C","v":0.02},{"c":"Treg","g":"C","v":0.015},{"c":"Treg","g":"C","v":0.012},{"c":"Treg","g":"C","v":0.01},{"c":"Treg","g":"C","v":0.006},{"c":"Treg","g":"C","v":0.003},
{"c":"Treg","g":"V","v":0.03},{"c":"Treg","g":"V","v":0.028},{"c":"Treg","g":"V","v":0.025},{"c":"Treg","g":"V","v":0.022},{"c":"Treg","g":"V","v":0.02},{"c":"Treg","g":"V","v":0.018},{"c":"Treg","g":"V","v":0.016},{"c":"Treg","g":"V","v":0.015},{"c":"Treg","g":"V","v":0.013},{"c":"Treg","g":"V","v":0.012},{"c":"Treg","g":"V","v":0.011},{"c":"Treg","g":"V","v":0.01},{"c":"Treg","g":"V","v":0.009},{"c":"Treg","g":"V","v":0.008},{"c":"Treg","g":"V","v":0.006},{"c":"Treg","g":"V","v":0.004}
],
"boxC":[
{"c":"B","g":"C","lo":0.008,"q1":0.01,"md":0.025,"q3":0.055,"hi":0.085},{"c":"B","g":"V","lo":0.003,"q1":0.007,"md":0.015,"q3":0.024,"hi":0.035},
{"c":"CD4","g":"C","lo":0.105,"q1":0.15,"md":0.17,"q3":0.25,"hi":0.37},{"c":"CD4","g":"V","lo":0.015,"q1":0.053,"md":0.105,"q3":0.161,"hi":0.2},
{"c":"CD8","g":"C","lo":0.015,"q1":0.032,"md":0.045,"q3":0.058,"hi":0.085},{"c":"CD8","g":"V","lo":0.005,"q1":0.018,"md":0.042,"q3":0.065,"hi":0.1},
{"c":"CyNK","g":"C","lo":0.012,"q1":0.018,"md":0.035,"q3":0.06,"hi":0.07},{"c":"CyNK","g":"V","lo":0.012,"q1":0.03,"md":0.05,"q3":0.075,"hi":0.14},
{"c":"DC","g":"C","lo":0.03,"q1":0.04,"md":0.05,"q3":0.06,"hi":0.07},{"c":"DC","g":"V","lo":0.002,"q1":0.006,"md":0.0115,"q3":0.02,"hi":0.032},
{"c":"Mac","g":"C","lo":0.175,"q1":0.28,"md":0.38,"q3":0.42,"hi":0.455},{"c":"Mac","g":"V","lo":0.24,"q1":0.44,"md":0.554,"q3":0.69,"hi":0.913},
{"c":"Mast","g":"C","lo":0.015,"q1":0.027,"md":0.045,"q3":0.065,"hi":0.075},{"c":"Mast","g":"V","lo":0.005,"q1":0.011,"md":0.021,"q3":0.04,"hi":0.092},
{"c":"Mono","g":"C","lo":0.03,"q1":0.042,"md":0.051,"q3":0.058,"hi":0.065},{"c":"Mono","g":"V","lo":0.01,"q1":0.035,"md":0.063,"q3":0.085,"hi":0.13},
{"c":"NK","g":"C","lo":0.02,"q1":0.032,"md":0.052,"q3":0.068,"hi":0.075},{"c":"NK","g":"V","lo":0.005,"q1":0.02,"md":0.04,"q3":0.058,"hi":0.09},
{"c":"PC","g":"C","lo":0.002,"q1":0.02,"md":0.069,"q3":0.114,"hi":0.17},{"c":"PC","g":"V","lo":0.02,"q1":0.042,"md":0.087,"q3":0.137,"hi":0.22},
{"c":"Treg","g":"C","lo":0.003,"q1":0.005,"md":0.0135,"q3":0.02,"hi":0.03},{"c":"Treg","g":"V","lo":0.004,"q1":0.0085,"md":0.0125,"q3":0.019,"hi":0.03}
],
"pvC":[
{"c":"B","t":"𝑝  =  0.37","y":0.965},{"c":"CD4","t":"𝑝  =  0.026","y":1.042},{"c":"CD8","t":"𝑝  =  0.43","y":0.965},{"c":"CyNK","t":"𝑝  =  0.37","y":1.042},{"c":"DC","t":"𝑝  =  3.6e⁻⁵","y":0.965},{"c":"Mac","t":"𝑝  =  0.016","y":1.042},{"c":"Mast","t":"𝑝  =  0.048","y":0.965},{"c":"Mono","t":"𝑝  =  0.37","y":1.042},{"c":"NK","t":"𝑝 = 0.15","y":0.965},{"c":"PC","t":"𝑝 = 0.37","y":1.042},{"c":"Treg","t":"𝑝 = 0.29","y":0.965}
]
},
"vconcat":[
{
"width":911,"height":252,
"title":{"text":"a","anchor":"start","frame":"group","fontSize":16,"fontWeight":"bold","dx":-55,"dy":15.5},
"encoding":{"x":{"field":"c","type":"nominal","title":"Cell type","scale":{"domain":["AE","AT1","AT2","B","CD4","CD8","CyE","CyNK","DC","ECM","EC","Fib","Mac","Mast","Mono","Neu","NK","PC","SM","Treg"],"paddingInner":0,"paddingOuter":0.1},
"axis":{"labelAngle":270,"labelOverlap":false,"titleY":142,"titleBaseline":"middle","labelExpr":"{'AE':'Airway epithelia','AT1':'AT1','AT2':'AT2','B':'B cells','CD4':'CD4⁺ T cells','CD8':'CD8⁺ T cells','CyE':'Cycling epithelia','CyNK':'Cycling NK/T cells','DC':'Dendritic cells','ECM':'ECMʰⁱᵍʰ epithelia','EC':'Endothelial cells','Fib':'Fibroblasts','Mac':'Macrophages','Mast':'Mast cells','Mono':'Monocytes','Neu':'Neuronal cells','NK':'NK cells','PC':'Plasma cells','SM':'Smooth muscle','Treg':'Tregs'}[datum.value]"}}},
"layer":[
{"data":{"name":"boxA"},"mark":{"type":"rule","strokeWidth":1.5},"encoding":{"xOffset":{"field":"g","type":"nominal","scale":{"domain":["C","V"],"paddingInner":0.07,"paddingOuter":0.3}},"y":{"field":"lo","type":"quantitative","scale":{"domain":[-0.029,0.629],"nice":false,"zero":false},"axis":{"title":"Frequency among all cells","values":[0,0.2,0.4,0.6],"format":".1f","titleX":-43,"titleBaseline":"middle"}},"y2":{"field":"q1"},"stroke":{"field":"g","type":"nominal","scale":{"domain":["V","C"],"range":["#a60c3e","#0f6e80"]},"legend":null}}},
{"data":{"name":"boxA"},"mark":{"type":"rule","strokeWidth":1.5},"encoding":{"xOffset":{"field":"g","type":"nominal","scale":{"domain":["C","V"],"paddingInner":0.07,"paddingOuter":0.3}},"y":{"field":"q3","type":"quantitative"},"y2":{"field":"hi"},"stroke":{"field":"g","type":"nominal","scale":{"domain":["V","C"],"range":["#a60c3e","#0f6e80"]},"legend":null}}},
{"data":{"name":"boxA"},"mark":{"type":"bar","fillOpacity":0,"strokeWidth":1.5},"encoding":{"xOffset":{"field":"g","type":"nominal","scale":{"domain":["C","V"],"paddingInner":0.07,"paddingOuter":0.3}},"y":{"field":"q1","type":"quantitative"},"y2":{"field":"q3"},"stroke":{"field":"g","type":"nominal","scale":{"domain":["V","C"],"range":["#a60c3e","#0f6e80"]},"legend":null}}},
{"data":{"name":"boxA"},"mark":{"type":"bar","fillOpacity":0,"strokeWidth":1.5},"encoding":{"xOffset":{"field":"g","type":"nominal","scale":{"domain":["C","V"],"paddingInner":0.07,"paddingOuter":0.3}},"y":{"field":"md","type":"quantitative"},"y2":{"field":"md"},"stroke":{"field":"g","type":"nominal","scale":{"domain":["V","C"],"range":["#a60c3e","#0f6e80"]},"legend":null}}},
{"data":{"name":"ptA"},"transform":[{"filter":"datum.g == 'C'"},{"window":[{"op":"row_number","as":"s"}],"groupby":["c"]}],"mark":{"type":"circle","size":34,"opacity":1},"encoding":{"xOffset":{"field":"s","type":"ordinal","scale":{"type":"point","domain":[4,8,1,6,3,7,2,5],"range":[7.2,20.2],"padding":0}},"y":{"field":"v","type":"quantitative"},"color":{"field":"g","type":"nominal","scale":{"domain":["C","V"],"range":["#0f6e80","#a60c3e"]},"legend":{"legendX":6.5,"legendY":-31.5,"labelExpr":"datum.value == 'C' ? 'Control' : 'COVID-19'"}}}},
{"data":{"name":"ptA"},"transform":[{"filter":"datum.g == 'V'"},{"window":[{"op":"row_number","as":"s"}],"groupby":["c"]}],"mark":{"type":"circle","size":34,"opacity":1},"encoding":{"xOffset":{"field":"s","type":"ordinal","scale":{"type":"point","domain":[7,15,2,19,11,4,22,13,9,17,1,14,6,20,10,3,18,12,5,21,8,16],"range":[25,38],"padding":0}},"y":{"field":"v","type":"quantitative"},"color":{"field":"g","type":"nominal","scale":{"domain":["C","V"],"range":["#0f6e80","#a60c3e"]},"legend":{"legendX":6.5,"legendY":-31.5,"labelExpr":"datum.value == 'C' ? 'Control' : 'COVID-19'"}}}},
{"data":{"name":"pvA"},"mark":{"type":"text","fontSize":9.5,"dx":6,"baseline":"middle"},"encoding":{"y":{"field":"y","type":"quantitative"},"text":{"field":"t"}}}
],
"resolve":{"scale":{"xOffset":"independent"}}
},
{
"bounds":"flush","spacing":85,
"hconcat":[
{
"width":419,"height":200,
"title":{"text":"b","anchor":"start","frame":"group","fontSize":16,"fontWeight":"bold","dx":-63,"dy":16.7},
"encoding":{"x":{"field":"c","type":"nominal","title":"Cell type","scale":{"domain":["AE","AT1","AT2","CyE","ECM","EC","Fib","Neu","SM"],"paddingInner":0,"paddingOuter":0.213},
"axis":{"labelAngle":270,"labelOverlap":false,"titleY":147,"titleBaseline":"middle","labelExpr":"{'AE':'Airway epithelia','AT1':'AT1','AT2':'AT2','B':'B cells','CD4':'CD4⁺ T cells','CD8':'CD8⁺ T cells','CyE':'Cycling epithelia','CyNK':'Cycling NK/T cells','DC':'Dendritic cells','ECM':'ECMʰⁱᵍʰ epithelia','EC':'Endothelial cells','Fib':'Fibroblasts','Mac':'Macrophages','Mast':'Mast cells','Mono':'Monocytes','Neu':'Neuronal cells','NK':'NK cells','PC':'Plasma cells','SM':'Smooth muscle','Treg':'Tregs'}[datum.value]"}}},
"layer":[
{"data":{"name":"boxB"},"mark":{"type":"rule","strokeWidth":1.5},"encoding":{"xOffset":{"field":"g","type":"nominal","scale":{"domain":["C","V"],"paddingInner":0.07,"paddingOuter":0.3}},"y":{"field":"lo","type":"quantitative","scale":{"domain":[-0.05,1.05],"nice":false,"zero":false},"axis":{"title":["Frequency among","non-immune cells"],"values":[0,0.25,0.5,0.75,1],"format":".2f","titleX":-61,"titleBaseline":"middle"}},"y2":{"field":"q1"},"stroke":{"field":"g","type":"nominal","scale":{"domain":["V","C"],"range":["#a60c3e","#0f6e80"]},"legend":null}}},
{"data":{"name":"boxB"},"mark":{"type":"rule","strokeWidth":1.5},"encoding":{"xOffset":{"field":"g","type":"nominal","scale":{"domain":["C","V"],"paddingInner":0.07,"paddingOuter":0.3}},"y":{"field":"q3","type":"quantitative"},"y2":{"field":"hi"},"stroke":{"field":"g","type":"nominal","scale":{"domain":["V","C"],"range":["#a60c3e","#0f6e80"]},"legend":null}}},
{"data":{"name":"boxB"},"mark":{"type":"bar","fillOpacity":0,"strokeWidth":1.5},"encoding":{"xOffset":{"field":"g","type":"nominal","scale":{"domain":["C","V"],"paddingInner":0.07,"paddingOuter":0.3}},"y":{"field":"q1","type":"quantitative"},"y2":{"field":"q3"},"stroke":{"field":"g","type":"nominal","scale":{"domain":["V","C"],"range":["#a60c3e","#0f6e80"]},"legend":null}}},
{"data":{"name":"boxB"},"mark":{"type":"bar","fillOpacity":0,"strokeWidth":1.5},"encoding":{"xOffset":{"field":"g","type":"nominal","scale":{"domain":["C","V"],"paddingInner":0.07,"paddingOuter":0.3}},"y":{"field":"md","type":"quantitative"},"y2":{"field":"md"},"stroke":{"field":"g","type":"nominal","scale":{"domain":["V","C"],"range":["#a60c3e","#0f6e80"]},"legend":null}}},
{"data":{"name":"ptB"},"transform":[{"filter":"datum.g == 'C'"},{"window":[{"op":"row_number","as":"s"}],"groupby":["c"]}],"mark":{"type":"circle","size":34,"opacity":1},"encoding":{"xOffset":{"field":"s","type":"ordinal","scale":{"type":"point","domain":[4,8,1,6,3,7,2,5],"range":[7,19.8],"padding":0}},"y":{"field":"v","type":"quantitative"},"color":{"field":"g","type":"nominal","scale":{"domain":["C","V"],"range":["#0f6e80","#a60c3e"]},"legend":{"legendX":6.8,"legendY":-26.2,"labelExpr":"datum.value == 'C' ? 'Control' : 'COVID-19'"}}}},
{"data":{"name":"ptB"},"transform":[{"filter":"datum.g == 'V'"},{"window":[{"op":"row_number","as":"s"}],"groupby":["c"]}],"mark":{"type":"circle","size":34,"opacity":1},"encoding":{"xOffset":{"field":"s","type":"ordinal","scale":{"type":"point","domain":[7,15,2,19,11,4,22,13,9,17,1,14,6,20,10,3,18,12,5,21,8,16],"range":[24.6,37.4],"padding":0}},"y":{"field":"v","type":"quantitative"},"color":{"field":"g","type":"nominal","scale":{"domain":["C","V"],"range":["#0f6e80","#a60c3e"]},"legend":{"legendX":6.8,"legendY":-26.2,"labelExpr":"datum.value == 'C' ? 'Control' : 'COVID-19'"}}}},
{"data":{"name":"pvB"},"mark":{"type":"text","fontSize":9.5,"dx":1,"baseline":"middle"},"encoding":{"y":{"field":"y","type":"quantitative"},"text":{"field":"t"}}}
],
"resolve":{"scale":{"xOffset":"independent"}}
},
{
"width":440,"height":201,
"title":{"text":"c","anchor":"start","frame":"group","fontSize":16,"fontWeight":"bold","dx":-83,"dy":16.5},
"encoding":{"x":{"field":"c","type":"nominal","title":"Cell type","scale":{"domain":["B","CD4","CD8","CyNK","DC","Mac","Mast","Mono","NK","PC","Treg"],"paddingInner":0,"paddingOuter":0.103},
"axis":{"labelAngle":270,"labelOverlap":false,"titleY":146,"titleBaseline":"middle","labelExpr":"{'AE':'Airway epithelia','AT1':'AT1','AT2':'AT2','B':'B cells','CD4':'CD4⁺ T cells','CD8':'CD8⁺ T cells','CyE':'Cycling epithelia','CyNK':'Cycling NK/T cells','DC':'Dendritic cells','ECM':'ECMʰⁱᵍʰ epithelia','EC':'Endothelial cells','Fib':'Fibroblasts','Mac':'Macrophages','Mast':'Mast cells','Mono':'Monocytes','Neu':'Neuronal cells','NK':'NK cells','PC':'Plasma cells','SM':'Smooth muscle','Treg':'Tregs'}[datum.value]"}}},
"layer":[
{"data":{"name":"boxC"},"mark":{"type":"rule","strokeWidth":1.5},"encoding":{"xOffset":{"field":"g","type":"nominal","scale":{"domain":["C","V"],"paddingInner":0.1,"paddingOuter":0.21}},"y":{"field":"lo","type":"quantitative","scale":{"domain":[-0.05,1.087],"nice":false,"zero":false},"axis":{"title":["Frequency among","immune cells"],"values":[0,0.25,0.5,0.75,1],"format":".2f","titleX":-69,"titleBaseline":"middle"}},"y2":{"field":"q1"},"stroke":{"field":"g","type":"nominal","scale":{"domain":["V","C"],"range":["#a60c3e","#0f6e80"]},"legend":null}}},
{"data":{"name":"boxC"},"mark":{"type":"rule","strokeWidth":1.5},"encoding":{"xOffset":{"field":"g","type":"nominal","scale":{"domain":["C","V"],"paddingInner":0.1,"paddingOuter":0.21}},"y":{"field":"q3","type":"quantitative"},"y2":{"field":"hi"},"stroke":{"field":"g","type":"nominal","scale":{"domain":["V","C"],"range":["#a60c3e","#0f6e80"]},"legend":null}}},
{"data":{"name":"boxC"},"mark":{"type":"bar","fillOpacity":0,"strokeWidth":1.5},"encoding":{"xOffset":{"field":"g","type":"nominal","scale":{"domain":["C","V"],"paddingInner":0.1,"paddingOuter":0.21}},"y":{"field":"q1","type":"quantitative"},"y2":{"field":"q3"},"stroke":{"field":"g","type":"nominal","scale":{"domain":["V","C"],"range":["#a60c3e","#0f6e80"]},"legend":null}}},
{"data":{"name":"boxC"},"mark":{"type":"bar","fillOpacity":0,"strokeWidth":1.5},"encoding":{"xOffset":{"field":"g","type":"nominal","scale":{"domain":["C","V"],"paddingInner":0.1,"paddingOuter":0.21}},"y":{"field":"md","type":"quantitative"},"y2":{"field":"md"},"stroke":{"field":"g","type":"nominal","scale":{"domain":["V","C"],"range":["#a60c3e","#0f6e80"]},"legend":null}}},
{"data":{"name":"ptC"},"transform":[{"filter":"datum.g == 'C'"},{"window":[{"op":"row_number","as":"s"}],"groupby":["c"]}],"mark":{"type":"circle","size":34,"opacity":1},"encoding":{"xOffset":{"field":"s","type":"ordinal","scale":{"type":"point","domain":[4,8,1,6,3,7,2,5],"range":[5.5,16.8],"padding":0}},"y":{"field":"v","type":"quantitative"},"color":{"field":"g","type":"nominal","scale":{"domain":["C","V"],"range":["#0f6e80","#a60c3e"]},"legend":{"legendX":0,"legendY":-26,"labelExpr":"datum.value == 'C' ? 'Control' : 'COVID-19'"}}}},
{"data":{"name":"ptC"},"transform":[{"filter":"datum.g == 'V'"},{"window":[{"op":"row_number","as":"s"}],"groupby":["c"]}],"mark":{"type":"circle","size":34,"opacity":1},"encoding":{"xOffset":{"field":"s","type":"ordinal","scale":{"type":"point","domain":[7,15,2,19,11,4,22,13,9,17,1,14,6,20,10,3,18,12,5,21,8,16],"range":[22.5,33.8],"padding":0}},"y":{"field":"v","type":"quantitative"},"color":{"field":"g","type":"nominal","scale":{"domain":["C","V"],"range":["#0f6e80","#a60c3e"]},"legend":{"legendX":0,"legendY":-26,"labelExpr":"datum.value == 'C' ? 'Control' : 'COVID-19'"}}}},
{"data":{"name":"pvC"},"mark":{"type":"text","fontSize":9.5,"dx":0,"baseline":"middle"},"encoding":{"y":{"field":"y","type":"quantitative"},"text":{"field":"t"}}}
],
"resolve":{"scale":{"xOffset":"independent"}}
}
],
"resolve":{"scale":{"x":"independent","y":"independent","color":"independent","stroke":"independent"},"legend":{"color":"independent"}}
}
],
"resolve":{"scale":{"x":"independent","y":"independent","color":"independent","stroke":"independent"},"legend":{"color":"independent"}}
}
